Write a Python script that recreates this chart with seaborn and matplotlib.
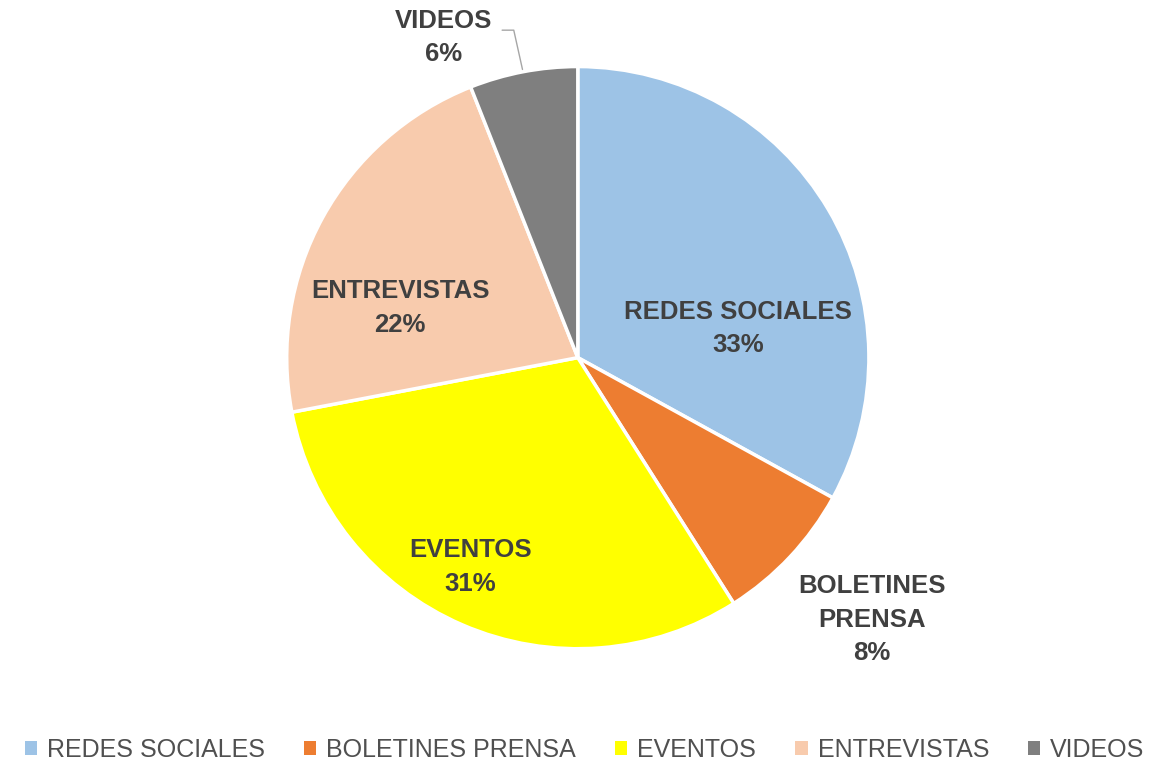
import matplotlib.pyplot as plt
import seaborn as sns
from matplotlib.patches import Patch

categorias = ['REDES SOCIALES', 'BOLETINES PRENSA', 'EVENTOS', 'ENTREVISTAS', 'VIDEOS']
rotulos = ['REDES SOCIALES', 'BOLETINES\nPRENSA', 'EVENTOS', 'ENTREVISTAS', 'VIDEOS']
valores = [33, 8, 31, 22, 6]
cores = ['#9DC3E6', '#ED7D31', '#FFFF00', '#F8CBAD', '#7F7F7F']

sns.set_theme(style='white')
plt.rcParams['font.family'] = ['Liberation Sans', 'DejaVu Sans']

fig = plt.figure(figsize=(11.51, 7.65), dpi=100)
# eixo posicionado para o centro em (578, 358) px e raio ~291 px
ax = fig.add_axes([0.249, 0.152, 0.506, 0.761])
fatias, _ = ax.pie(valores, colors=sns.color_palette(cores), startangle=90,
                   counterclock=False, radius=1,
                   wedgeprops=dict(edgecolor='white', linewidth=2.5))
ax.set_xlim(-1, 1)
ax.set_ylim(-1, 1)
ax.set_aspect('equal')
ax.axis('off')

cor_texto = '#404040'
pos_rotulos = [(0.55, 0.10), (1.01, -0.9), (-0.37, -0.72), (-0.61, 0.17), (-0.46, 1.10)]
for rot, v, (x, y) in zip(rotulos, valores, pos_rotulos):
    ax.text(x, y, f'{rot}\n{v}%', ha='center', va='center', fontsize=18.5,
            fontweight='bold', color=cor_texto, linespacing=1.5, clip_on=False)

# linha guia do rótulo VIDEOS
ax.plot([-0.26, -0.22, -0.19], [1.125, 1.125, 0.99], color='#A6A6A6', lw=1, clip_on=False)

handles = [Patch(facecolor=c, edgecolor='none') for c in cores]
fig.legend(handles, categorias, loc='lower center', ncol=5, frameon=False,
           bbox_to_anchor=(0.508, -0.025), fontsize=18, handlelength=0.5, handleheight=0.5,
           handletextpad=0.4, columnspacing=1.55, labelcolor='#505050')

fig.savefig('out.png', dpi=100)
